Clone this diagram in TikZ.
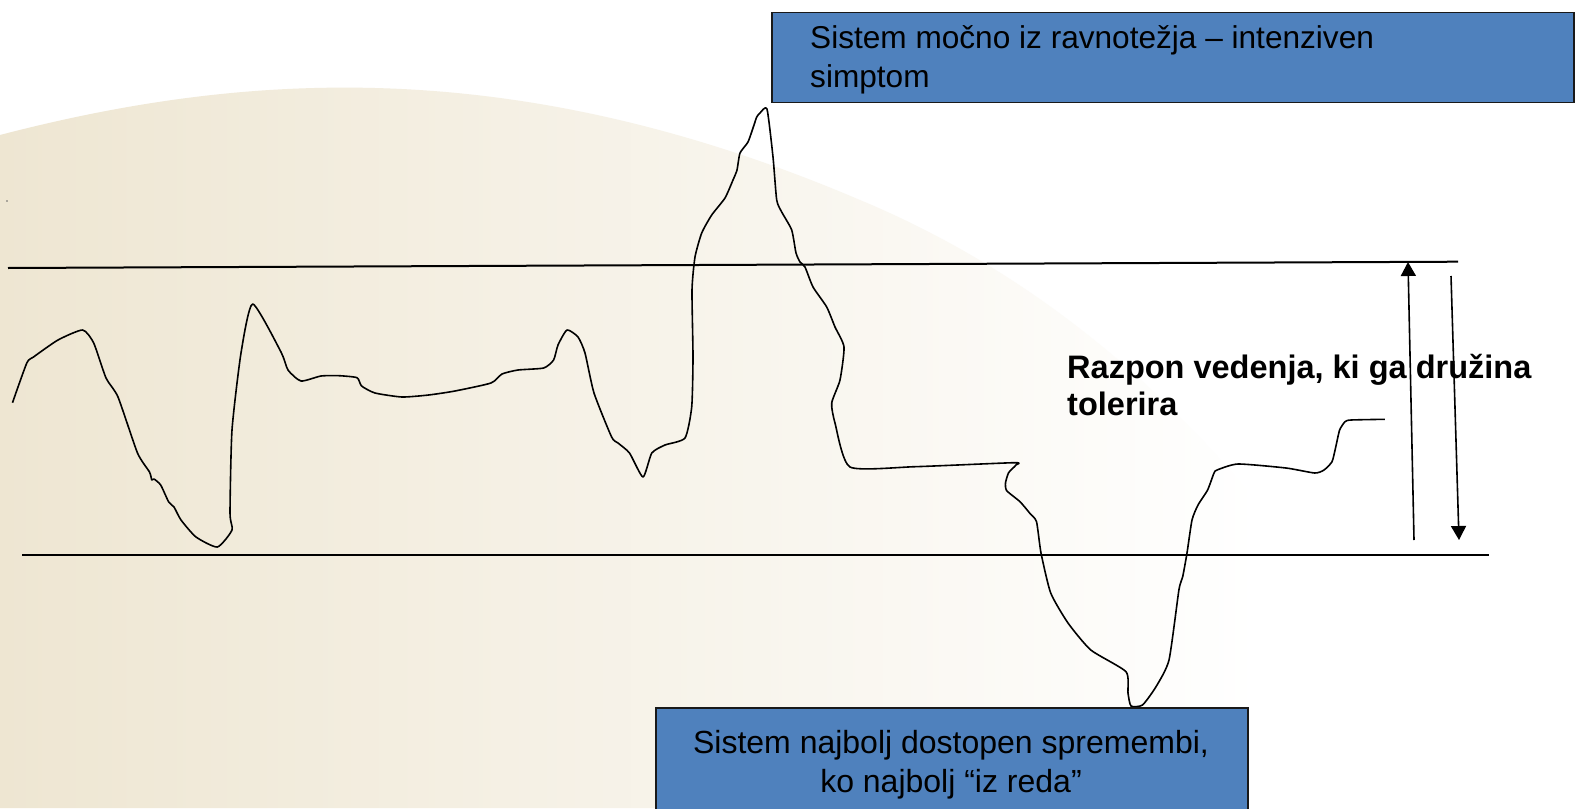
\documentclass[tikz,border=0pt]{standalone}
\usepackage{fontspec}
\setmainfont{Liberation Sans}
\usetikzlibrary{arrows.meta}
\definecolor{bgL}{RGB}{238,230,210}
\definecolor{bgM}{RGB}{245,240,229}
\definecolor{boxblue}{RGB}{79,129,189}
\definecolor{boxline}{RGB}{25,25,25}
\begin{document}
\begin{tikzpicture}[x=1bp,y=-1bp,
  curveline/.style={line width=1.6bp, black, line join=round},
  hline/.style={line width=2bp, black},
  arrline/.style={line width=1.6bp, black, -{Triangle[width=15bp,length=14bp]}},
  bluebox/.style={draw=boxline, line width=1.6bp, fill=boxblue, inner sep=0pt},
  toptext/.style={font=\fontsize{31.6bp}{39bp}\selectfont, inner sep=0pt},
  boldtext/.style={font=\bfseries\fontsize{32.5bp}{37bp}\selectfont, inner sep=0pt}]
\useasboundingbox (0,0) rectangle (1575,808);
\fill[white] (0,0) rectangle (1575,808);
\begin{scope}
  \clip (0,135) .. controls (250,70) and (520,55) .. (860,200)
        .. controls (1100,300) and (1300,500) .. (1450,808) -- (0,808) -- cycle;
  \shade[left color=bgL, middle color=bgM, right color=white] (0,0) rectangle (1260,808);
\end{scope}
\fill[black!60] (7,201) circle (0.8);

% reference lines
\coordinate (ul) at (8,268);
\coordinate (ur) at (1458,261.7);
\coordinate (ll) at (22,555);
\coordinate (lr) at (1489,555);
\draw[hline] (ul) -- (ur);
\draw[hline] (ll) -- (lr);

% behaviour curve
\draw[curveline] plot[smooth, tension=0.35] coordinates {
(12.5,402.7) (26.8,363) (33.5,357) (58,340) (82.6,330) (93.7,343) (106,378) (118,397)
(137.5,453) (149.5,472) (151.8,480) (154,479) (160.7,485) (168.7,502) (174,507) (181,520)
(196,537) (217.4,547) (232,530) (230,513) (232,430) (241,353) (252.7,304) (281,352)
(288,370) (301,381) (321,376) (339,375.7) (357,377.7) (361.6,386) (375,393) (402,397)
(428.6,395) (455,391) (491,383) (502,374) (518,370) (543.7,368) (553.6,360) (558,345)
(567,330) (578,337) (585,353) (594,393) (611.6,437) (618,443) (629.5,453) (643,477)
(651.8,453) (665,445) (685,438) (691.7,407) (693,357) (692,290) (695,257) (701.7,233)
(711.7,215) (725,198) (733,180) (737,170) (740,153) (748,142) (754,125) (756.7,117)
(760,113) (767,109) (773,157) (776.7,200) (781.7,212) (791.7,230) (796,253) (800,262)
(805,267) (813,287) (826.7,307) (835,327) (844,347) (840,380) (831.7,403) (835,423)
(850,467) (914.8,466.7) (1014,462.7) (1016,465) (1008.6,472.7) (1005.5,483) (1006.7,490.7)
(1020,501.7) (1029.6,513) (1036.5,521.7) (1041,553) (1050.7,593) (1068,623) (1090.8,650)
(1126,671.7) (1128,693) (1131,706) (1142.5,705) (1156,686.7) (1169,660) (1178.9,590)
(1182.7,576.7) (1187,553) (1192,520) (1198,505) (1207.6,490) (1214,473) (1217,470)
(1238,464) (1286,468) (1314.7,473) (1324,470) (1332,461.7) (1335.8,446.7) (1339.6,430)
(1345,421.7) (1351,420) (1384.8,419.3)};

% arrows
\coordinate (upS) at (1414,540);
\coordinate (upE) at (1408,262);
\coordinate (dnS) at (1451,276);
\coordinate (dnE) at (1459,540);
\draw[arrline] (upS) -- (upE);
\draw[arrline] (dnS) -- (dnE);

% top box
\node[bluebox, anchor=north west, minimum width=802bp, minimum height=90bp] (top) at (771,11.7) {};
\node[toptext, anchor=base west] (topl1) at (810,48.5) {Sistem močno iz ravnotežja – intenziven};
\node[toptext, anchor=base west] (topl2) at (810,87.5) {simptom};

% bottom box
\node[bluebox, anchor=north west, minimum width=592bp, minimum height=120bp] (bot) at (655,707) {};
\node[font=\fontsize{32bp}{39bp}\selectfont, inner sep=0pt, anchor=base] (botl1) at (951,753) {Sistem najbolj dostopen spremembi,};
\node[font=\fontsize{32bp}{39bp}\selectfont, inner sep=0pt, anchor=base] (botl2) at (951,792) {ko najbolj “iz reda”};
\coordinate (tk1) at (1248.5,727);
\coordinate (tk2) at (1248.5,752);
\draw[line width=1bp, boxline] (tk1) -- (tk2);

% label
\node[boldtext, anchor=base west] (lab1) at (1067,378) {Razpon vedenja, ki ga družina};
\node[boldtext, anchor=base west] (lab2) at (1067,415) {tolerira};
\end{tikzpicture}
\end{document}
